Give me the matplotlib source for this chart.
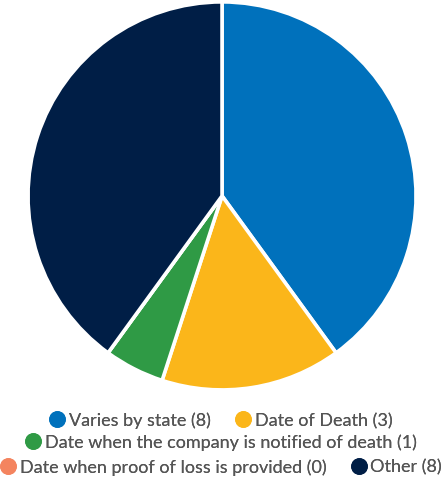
import matplotlib.pyplot as plt
from matplotlib.lines import Line2D

labels = ['Varies by state', 'Date of Death', 'Date when the company is notified of death',
          'Date when proof of loss is provided', 'Other']
counts = [8, 3, 1, 0, 8]
colors = ['#0071BC', '#FBB61A', '#2F9A45', '#F4845F', '#001E46']

plt.rcParams['font.family'] = ['Lato', 'DejaVu Sans']

fig = plt.figure(figsize=(4.41, 4.85), dpi=100)
ax = fig.add_axes([0.0635, 0.194, 0.88, 0.80])
ax.pie(counts, colors=colors, startangle=90, counterclock=False,
       wedgeprops=dict(edgecolor='white', linewidth=2.6))
ax.set_xlim(-1, 1)
ax.set_ylim(-1, 1)
ax.set_aspect('equal')

handles = [Line2D([], [], marker='o', linestyle='', markersize=11,
                  markerfacecolor=c, markeredgecolor=c) for c in colors]
texts = [f'{l} ({n})' for l, n in zip(labels, counts)]

rows = [([0, 1], 0.132), ([2], 0.087), ([3, 4], 0.036)]
for idx, y in rows:
    leg = fig.legend([handles[i] for i in idx], [texts[i] for i in idx],
                     loc='center', bbox_to_anchor=(0.5, y), ncol=len(idx),
                     frameon=False, handletextpad=0.15,
                     columnspacing=1.3, handlelength=1.0, borderpad=0,
                     prop=dict(size=13))
    for t in leg.get_texts():
        t.set_color('#555555')
    fig.add_artist(leg)

fig.savefig('out.png', dpi=100)
